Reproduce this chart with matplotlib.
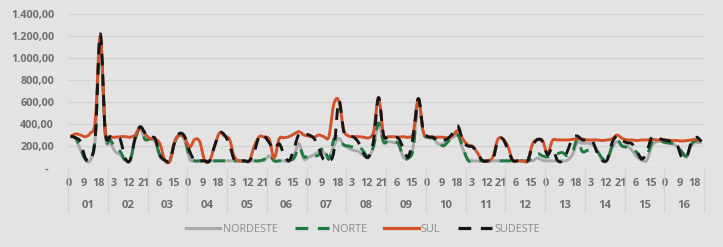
import matplotlib
matplotlib.use("Agg")
import matplotlib.pyplot as plt
import matplotlib.transforms as mtransforms
from matplotlib.lines import Line2D
from matplotlib.path import Path
from matplotlib.patches import PathPatch

# ---------------- data ----------------
days = ["01", "02", "03", "04", "05", "06", "07", "08",
        "09", "10", "11", "12", "13", "14", "15", "16"]
hours_per_day = 24
sample_hours = [1, 4, 7, 10, 13, 16, 19, 22]   # hours sampled in every day
hour_tick_step = 9

nordeste = [
    285, 270, 165, 73, 73, 280, 1180, 300,
    230, 150, 120, 70, 70, 250, 360, 260,
    260, 240, 100, 70, 65, 230, 300, 250,
    80, 65, 65, 65, 65, 65, 65, 65,
    65, 65, 65, 65, 65, 65, 65, 70,
    110, 65, 65, 65, 65, 120, 220, 80,
    100, 120, 150, 140, 100, 200, 270, 210,
    180, 160, 150, 110, 100, 200, 400, 230,
    240, 230, 220, 100, 90, 200, 620, 320,
    280, 270, 220, 220, 250, 280, 290, 170,
    80, 65, 65, 65, 65, 65, 65, 65,
    65, 65, 65, 65, 65, 65, 90, 70,
    65, 65, 65, 65, 70, 120, 230, 225,
    225, 215, 165, 70, 65, 180, 240, 200,
    200, 160, 100, 70, 70, 200, 240, 240,
    225, 220, 200, 140, 100, 210, 230, 230,
]
norte = [
    285, 275, 180, 80, 80, 290, 1190, 300,
    260, 180, 150, 70, 70, 260, 360, 260,
    265, 250, 120, 70, 65, 240, 300, 260,
    100, 65, 65, 65, 65, 65, 65, 65,
    65, 65, 65, 65, 65, 65, 65, 80,
    120, 65, 65, 70, 70, 90, 190, 100,
    120, 110, 120, 190, 80, 260, 280, 210,
    200, 190, 200, 150, 100, 200, 410, 240,
    250, 240, 220, 100, 90, 180, 630, 320,
    280, 270, 240, 200, 240, 280, 300, 180,
    70, 65, 65, 65, 65, 65, 65, 65,
    65, 65, 65, 65, 65, 90, 130, 110,
    100, 120, 130, 140, 110, 140, 260, 150,
    160, 170, 150, 90, 70, 200, 260, 200,
    190, 180, 140, 90, 110, 230, 240, 240,
    230, 225, 210, 150, 110, 220, 250, 235,
]
sul = [
    285, 310, 300, 285, 318, 436, 1200, 350,
    285, 280, 285, 285, 280, 300, 370, 310,
    270, 265, 220, 70, 65, 245, 300, 270,
    190, 260, 240, 70, 65, 200, 320, 290,
    260, 100, 65, 65, 65, 200, 285, 280,
    260, 90, 265, 275, 285, 310, 330, 300,
    290, 280, 300, 285, 285, 580, 610, 345,
    290, 285, 285, 280, 275, 330, 640, 300,
    285, 285, 280, 285, 280, 320, 630, 330,
    285, 280, 280, 280, 275, 300, 340, 260,
    210, 195, 130, 65, 65, 100, 260, 265,
    200, 70, 65, 65, 65, 220, 255, 250,
    130, 250, 255, 255, 255, 260, 265, 265,
    255, 255, 255, 250, 255, 265, 300, 270,
    255, 255, 250, 255, 255, 260, 255, 255,
    255, 250, 250, 245, 250, 255, 260, 245,
]
sudeste = [
    290, 275, 240, 90, 75, 290, 1220, 330,
    285, 270, 260, 90, 70, 270, 375, 320,
    275, 270, 120, 70, 70, 240, 315, 285,
    150, 65, 65, 65, 65, 200, 320, 300,
    210, 70, 65, 65, 65, 150, 290, 290,
    230, 170, 220, 120, 65, 180, 310, 310,
    300, 270, 180, 70, 65, 150, 610, 330,
    290, 280, 230, 130, 100, 250, 640, 300,
    285, 280, 270, 180, 100, 300, 630, 340,
    285, 280, 240, 250, 270, 320, 380, 240,
    200, 190, 120, 65, 65, 70, 250, 265,
    170, 70, 65, 65, 65, 200, 260, 240,
    120, 180, 70, 65, 150, 270, 290, 255,
    255, 250, 140, 70, 75, 230, 290, 250,
    230, 220, 150, 80, 150, 280, 275, 260,
    250, 240, 220, 100, 100, 240, 280, 240,
]
series_names = ["NORDESTE", "NORTE", "SUL", "SUDESTE"]
yticks = [0, 200, 400, 600, 800, 1000, 1200, 1400]

# ---------------- styling ----------------
BG = "#e3e3e3"
GRID = "#d3d3d3"
TXT = "#6f6f6f"
LEG_TXT = "#8c8c8c"
colors = {"NORDESTE": "#a9a9a9", "NORTE": "#1f7a3f",
          "SUL": "#d4522a", "SUDESTE": "#161616"}
dashed = {"NORDESTE": False, "NORTE": True, "SUL": False, "SUDESTE": True}
LW = 2.1
DASH = (4, 3)
FONT = "Open Sans"

plt.rcParams["font.family"] = [FONT, "DejaVu Sans"]

fig = plt.figure(figsize=(7.23, 2.47), dpi=100, facecolor=BG)
ax = fig.add_axes([68 / 723, 1 - 168 / 247, (704 - 68) / 723, (168 - 14) / 247])
ax.set_facecolor(BG)

n_hours = len(days) * hours_per_day
xs = [d * hours_per_day + h for d in range(len(days)) for h in sample_hours]

data = {"NORDESTE": nordeste, "NORTE": norte, "SUL": sul, "SUDESTE": sudeste}


def smooth_path(x, y):
    """Smoothed line through the data points (Bezier segments, like a
    spreadsheet 'smoothed line'), expressed in data coordinates."""
    n = len(x)
    verts = [(x[0], y[0])]
    codes = [Path.MOVETO]
    for i in range(n - 1):
        x0, y0 = (x[i - 1], y[i - 1]) if i > 0 else (x[i], y[i])
        x1, y1 = x[i], y[i]
        x2, y2 = x[i + 1], y[i + 1]
        x3, y3 = (x[i + 2], y[i + 2]) if i + 2 < n else (x2, y2)
        c1 = (x1 + (x2 - x0) / 6.0, y1 + (y2 - y0) / 6.0)
        c2 = (x2 - (x3 - x1) / 6.0, y2 - (y3 - y1) / 6.0)
        verts += [c1, c2, (x2, y2)]
        codes += [Path.CURVE4, Path.CURVE4, Path.CURVE4]
    return Path(verts, codes)


for name in series_names:
    ls = (0, DASH) if dashed[name] else "-"
    patch = PathPatch(smooth_path(xs, data[name]), fill=False,
                      edgecolor=colors[name], lw=LW, linestyle=ls,
                      joinstyle="round", capstyle="butt", zorder=3)
    ax.add_patch(patch)

ax.set_xlim(-0.5, n_hours - 0.5)
ax.set_ylim(0, 1400)


def fmt_br(v):
    if v == 0:
        return "-  "
    s = f"{v:,.2f}"
    return s.replace(",", "X").replace(".", ",").replace("X", ".")


ax.set_yticks(yticks)
ax.set_yticklabels([fmt_br(v) for v in yticks])
ax.yaxis.grid(True, color=GRID, lw=0.9)
ax.set_axisbelow(True)
ax.tick_params(axis="y", length=0, pad=10, labelsize=7.8, labelcolor=TXT)
for lab in ax.get_yticklabels():
    lab.set_fontweight("bold")

hour_ticks = list(range(0, n_hours, hour_tick_step))
ax.set_xticks(hour_ticks)
ax.set_xticklabels([str(t % hours_per_day) for t in hour_ticks])
ax.tick_params(axis="x", length=0, pad=7, labelsize=7.8, labelcolor=TXT)
for lab in ax.get_xticklabels():
    lab.set_fontweight("bold")

for sp in ax.spines.values():
    sp.set_visible(False)

trans = mtransforms.blended_transform_factory(ax.transData, ax.transAxes)
ax_h = 168 - 14
for d in range(len(days) + 1):
    xb = d * hours_per_day - 0.5
    ax.plot([xb, xb], [0, -(212 - 168) / ax_h], transform=trans,
            color=GRID, lw=0.9, clip_on=False)
for d, lab in enumerate(days):
    ax.text(d * hours_per_day + hours_per_day / 2 - 0.5, -(205 - 168) / ax_h, lab,
            transform=trans, ha="center", va="center", fontsize=8.2,
            fontweight="bold", color=TXT)

handles = []
for name in series_names:
    ls = (0, DASH) if dashed[name] else "-"
    handles.append(Line2D([], [], color=colors[name], lw=2.3, linestyle=ls))
leg = fig.legend(handles, series_names, loc="center", ncol=4,
                 bbox_to_anchor=(363 / 723, 1 - 229 / 247), frameon=False,
                 fontsize=7.8, handlelength=3.2, handletextpad=0.2,
                 columnspacing=1.6, labelcolor=LEG_TXT)

fig.savefig("out.png", dpi=100, facecolor=BG)
